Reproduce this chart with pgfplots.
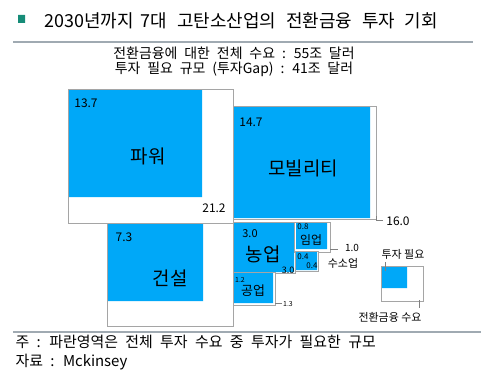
\documentclass[border=0pt]{standalone}
\usepackage{pgfplots}
\pgfplotsset{compat=1.18}
\usepackage{fontspec}
\setmainfont{Noto Sans CJK KR}
\newfontfamily\widesub{Noto Sans CJK KR}[WordSpace=1.4]
\newfontfamily\widefoot{Noto Sans CJK KR}[WordSpace=2.2]
\definecolor{tblue}{RGB}{0,168,248}
\definecolor{bgray}{RGB}{165,165,165}
\definecolor{teal1}{RGB}{22,140,120}
\definecolor{lgray}{RGB}{160,170,178}
\newcommand{\fs}[1]{\fontsize{#1}{#1}\selectfont}
\pgfplotsset{
  outer/.style={fill=white, draw=bgray, line width=0.8pt, no markers},
  inner/.style={fill=tblue, draw=none, no markers},
  frame/.style={draw=bgray, line width=0.8pt, no markers},
  tick/.style={draw=gray, line width=0.6pt, no markers},
}
\begin{document}
\begin{tikzpicture}
\begin{axis}[scale only axis, width=491bp, height=376bp,
  xmin=0, xmax=491, ymin=0, ymax=376, y dir=reverse, hide axis, clip=false]
\path (axis cs:0,0) rectangle (axis cs:491,376);
% title marker
\addplot[fill=teal1, draw=none, no markers] coordinates {(18,15) (25,15) (25,23) (18,23) (18,15)};
% separator lines
\addplot[draw=lgray, line width=1.2pt, no markers] coordinates {(13,42) (473,42)};
\addplot[draw=lgray, line width=1.2pt, no markers] coordinates {(13,332) (481,332)};
% Power: total 21.2, gap 13.7
\addplot[outer] coordinates {(68,89) (233,89) (233,223) (68,223) (68,89)};
\addplot[inner] coordinates {(68,89) (202,89) (202,197) (68,197) (68,89)};
\addplot[frame] coordinates {(68,89) (233,89) (233,223) (68,223) (68,89)};
% Mobility: total 16.0, gap 14.7
\addplot[outer] coordinates {(233,106) (376,106) (376,219) (233,219) (233,106)};
\addplot[inner] coordinates {(234,107) (370,107) (370,218) (234,218) (234,107)};
% Construction: total ~12.1, gap 7.3
\addplot[outer] coordinates {(107,223) (233,223) (233,326) (107,326) (107,223)};
\addplot[inner] coordinates {(107,223) (203,223) (203,301) (107,301) (107,223)};
\addplot[frame] coordinates {(107,223) (233,223) (233,326) (107,326) (107,223)};
% Agriculture: total 3.0, gap 3.0
\addplot[outer] coordinates {(233,222) (295,222) (295,273) (233,273) (233,222)};
\addplot[inner] coordinates {(234,223) (294,223) (294,272) (234,272) (234,223)};
% Forestry: total 1.0, gap 0.8
\addplot[outer] coordinates {(294,222) (330,222) (330,252) (294,252) (294,222)};
\addplot[inner] coordinates {(296,223) (327,223) (327,249) (296,249) (296,223)};
% Hydrogen: total 0.4, gap 0.4
\addplot[outer] coordinates {(295,251) (318,251) (318,271) (295,271) (295,251)};
\addplot[inner] coordinates {(296,252) (317,252) (317,270) (296,270) (296,252)};
% Industry: total 1.3, gap 1.2
\addplot[outer] coordinates {(233,272) (275,272) (275,305) (233,305) (233,272)};
\addplot[inner] coordinates {(234,273) (273,273) (273,303) (234,303) (234,273)};
% leader ticks
\addplot[tick] coordinates {(376,216) (376,220) (383,220)};
\addplot[tick] coordinates {(330,249) (338,249)};
\addplot[tick] coordinates {(275,303) (282,303)};
% legend
\addplot[outer] coordinates {(381,266) (423,266) (423,301) (381,301) (381,266)};
\addplot[inner] coordinates {(382,267) (407,267) (407,288) (382,288) (382,267)};
\addplot[tick] coordinates {(385,262) (385,271)};
\addplot[tick] coordinates {(419,300) (419,308)};

% texts
\node[anchor=west, font=\fs{18}] at (axis cs:41,21) {2030년까지\hspace{0.4em}7대\hspace{0.55em}고탄소산업의\hspace{0.55em}전환금융\hspace{0.55em}투자\hspace{0.55em}기회};
\node[font={\widesub\fs{14}}] at (axis cs:234,53) {전환금융에 대한 전체 수요 : 55조 달러};
\node[font={\widesub\fs{14}}] at (axis cs:234,69) {투자 필요 규모 (투자Gap) : 41조 달러};

\node[font=\fs{12}] at (axis cs:86,103) {13.7};
\node[font=\fs{19}] at (axis cs:148,156) {파워};
\node[font=\fs{12}] at (axis cs:214,208) {21.2};

\node[font=\fs{12}] at (axis cs:251,122) {14.7};
\node[font=\fs{19}] at (axis cs:303,168) {모빌리티};
\node[font=\fs{12}] at (axis cs:398,221) {16.0};

\node[font=\fs{12}] at (axis cs:124,237) {7.3};
\node[font=\fs{19}] at (axis cs:170,278) {건설};

\node[font=\fs{11}] at (axis cs:250,234) {3.0};
\node[font=\fs{19}] at (axis cs:263,254) {농업};
\node[font=\fs{9}] at (axis cs:288,270) {3.0};

\node[font=\fs{8}] at (axis cs:303,227) {0.8};
\node[font=\fs{12}] at (axis cs:311,240) {임업};
\node[font=\fs{10}] at (axis cs:352,248) {1.0};

\node[font=\fs{8}] at (axis cs:303,257) {0.4};
\node[font=\fs{8}] at (axis cs:312,266) {0.4};
\node[font=\fs{11}] at (axis cs:343,263) {수소업};

\node[font=\fs{7}] at (axis cs:240,280) {1.2};
\node[font=\fs{13}] at (axis cs:253,291) {공업};
\node[font=\fs{7}] at (axis cs:288,304) {1.3};

\node[font=\fs{11}] at (axis cs:403,254) {투자 필요};
\node[font=\fs{11}] at (axis cs:390,317) {전환금융 수요};

\node[anchor=west, font={\widefoot\fs{15}}] at (axis cs:12,342) {주 : 파란영역은 전체 투자 수요 중 투자가 필요한 규모};
\node[anchor=west, font={\widefoot\fs{15}}] at (axis cs:12,362) {자료 : Mckinsey};
\end{axis}
\end{tikzpicture}
\end{document}
